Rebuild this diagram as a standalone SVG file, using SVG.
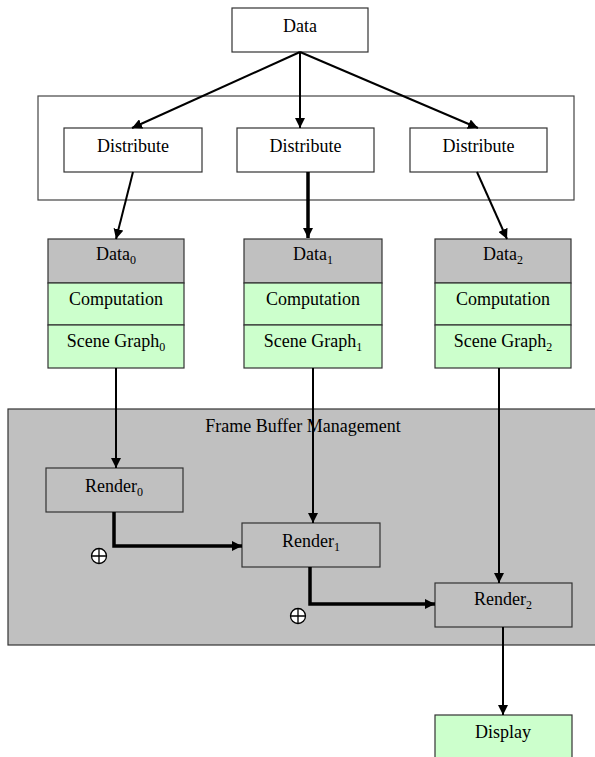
<svg xmlns="http://www.w3.org/2000/svg" width="595" height="757" viewBox="0 0 595 757">
<defs>
<style>
text{font-family:"Liberation Serif","Times New Roman",serif;font-size:18px;fill:#000;text-anchor:middle}
.sub{font-size:12px}
.box{stroke:#333;stroke-width:1.2}
.w{fill:#fff}
.g{fill:#c0c0c0}
.gr{fill:#ccffcc}
.c{fill:none;stroke:#000;stroke-width:2}
.t{fill:none;stroke:#000;stroke-width:3.5}
</style>
<marker id="ah" viewBox="0 0 10 10" refX="10" refY="5" markerUnits="userSpaceOnUse" markerWidth="10" markerHeight="10" orient="auto">
<path d="M0,0 L10,5 L0,10 z" fill="#000"/>
</marker>
</defs>
<rect width="595" height="757" fill="#fff"/>

<g id="frame">
<rect class="box g" x="8" y="409" width="600" height="236"/>
<text x="303" y="432">Frame Buffer Management</text>
</g>

<g id="distgroup">
<rect x="38" y="96" width="536" height="104" fill="none" stroke="#444" stroke-width="1.2"/>
</g>

<g id="data">
<rect class="box w" x="232" y="8" width="136" height="44"/>
<text x="300" y="32">Data</text>
</g>

<g id="dist1">
<rect class="box w" x="64" y="128" width="138" height="44"/>
<text x="133" y="152">Distribute</text>
</g>
<g id="dist2">
<rect class="box w" x="237" y="128" width="137" height="44"/>
<text x="305.5" y="152">Distribute</text>
</g>
<g id="dist3">
<rect class="box w" x="410" y="128" width="137" height="44"/>
<text x="478.5" y="152">Distribute</text>
</g>

<g id="stack0">
<rect class="box g" x="48" y="239" width="136" height="44"/>
<rect class="box gr" x="48" y="283" width="136" height="42"/>
<rect class="box gr" x="48" y="325" width="136" height="43"/>
<text x="116" y="260">Data<tspan class="sub" dy="4">0</tspan></text>
<text x="116" y="305">Computation</text>
<text x="116" y="347">Scene Graph<tspan class="sub" dy="4">0</tspan></text>
</g>
<g id="stack1">
<rect class="box g" x="244" y="239" width="138" height="44"/>
<rect class="box gr" x="244" y="283" width="138" height="42"/>
<rect class="box gr" x="244" y="325" width="138" height="43"/>
<text x="313" y="260">Data<tspan class="sub" dy="4">1</tspan></text>
<text x="313" y="305">Computation</text>
<text x="313" y="347">Scene Graph<tspan class="sub" dy="4">1</tspan></text>
</g>
<g id="stack2">
<rect class="box g" x="435" y="239" width="136" height="44"/>
<rect class="box gr" x="435" y="283" width="136" height="42"/>
<rect class="box gr" x="435" y="325" width="136" height="43"/>
<text x="503" y="260">Data<tspan class="sub" dy="4">2</tspan></text>
<text x="503" y="305">Computation</text>
<text x="503" y="347">Scene Graph<tspan class="sub" dy="4">2</tspan></text>
</g>

<g id="render0">
<rect class="box g" x="46" y="468" width="137" height="44"/>
<text x="114" y="492">Render<tspan class="sub" dy="4">0</tspan></text>
</g>
<g id="render1">
<rect class="box g" x="242" y="523" width="138" height="44"/>
<text x="311" y="547">Render<tspan class="sub" dy="4">1</tspan></text>
</g>
<g id="render2">
<rect class="box g" x="435" y="583" width="137" height="44"/>
<text x="503" y="605">Render<tspan class="sub" dy="4">2</tspan></text>
</g>

<g id="display">
<rect class="box gr" x="435" y="715" width="137" height="50"/>
<text x="503" y="738">Display</text>
</g>

<g id="connectors">
<line class="c" x1="300" y1="52" x2="132" y2="128" marker-end="url(#ah)"/>
<line class="c" x1="300" y1="52" x2="300" y2="128" marker-end="url(#ah)"/>
<line class="c" x1="300" y1="52" x2="478" y2="128" marker-end="url(#ah)"/>
<line class="c" x1="133" y1="172" x2="116" y2="239" marker-end="url(#ah)"/>
<line class="t" x1="308" y1="172" x2="308" y2="238" marker-end="url(#ah)"/>
<line class="c" x1="477" y1="172" x2="507" y2="239" marker-end="url(#ah)"/>
<line class="c" x1="116" y1="368" x2="116" y2="468" marker-end="url(#ah)"/>
<line class="c" x1="313" y1="368" x2="313" y2="523" marker-end="url(#ah)"/>
<line class="c" x1="499" y1="368" x2="499" y2="583" marker-end="url(#ah)"/>
<polyline class="t" points="114,512 114,546 242,546" marker-end="url(#ah)"/>
<polyline class="t" points="310,567 310,604 435,604" marker-end="url(#ah)"/>
<line class="c" x1="503" y1="627" x2="503" y2="715" marker-end="url(#ah)"/>
</g>

<g id="oplus0">
<circle cx="99" cy="556" r="7.5" fill="#fff" stroke="#000" stroke-width="1.3"/>
<path d="M91.5,556 H106.5 M99,548.5 V563.5" stroke="#000" stroke-width="1.3"/>
</g>
<g id="oplus1">
<circle cx="298" cy="616" r="7.5" fill="#fff" stroke="#000" stroke-width="1.3"/>
<path d="M290.5,616 H305.5 M298,608.5 V623.5" stroke="#000" stroke-width="1.3"/>
</g>
</svg>
